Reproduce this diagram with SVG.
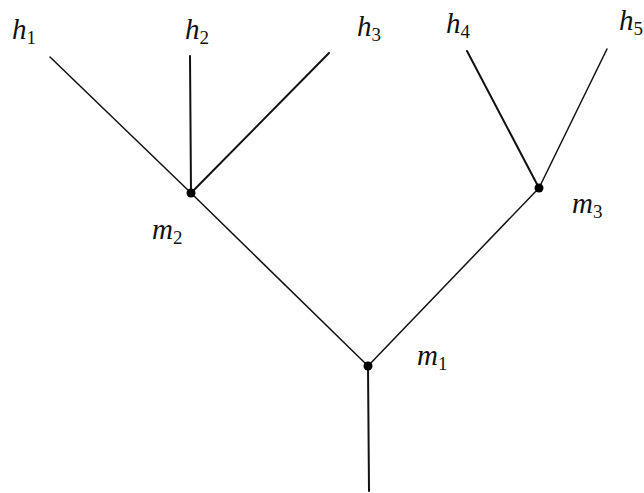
<svg xmlns="http://www.w3.org/2000/svg" width="644" height="493" viewBox="0 0 644 493">
<style>
.e{stroke:#111;stroke-width:1.5;fill:none;stroke-linecap:round}
.t{stroke-width:2}
.n{fill:#000}
.l{font-family:"Liberation Serif","Times New Roman",serif;font-style:italic;font-size:29px;fill:#111}
.s{font-style:normal;font-size:19px}
</style>
<rect width="644" height="493" fill="#fff"/>
<g id="edges">
<line class="e" x1="50" y1="57" x2="191" y2="193"/>
<line class="e t" x1="190" y1="56" x2="191" y2="193"/>
<line class="e t" x1="329" y1="53" x2="191" y2="193"/>
<line class="e t" x1="467" y1="51" x2="539" y2="188"/>
<line class="e" x1="607" y1="49" x2="539" y2="188"/>
<line class="e" x1="191" y1="193" x2="368" y2="366"/>
<line class="e" x1="539" y1="188" x2="368" y2="366"/>
<line class="e t" x1="368" y1="366" x2="369" y2="491"/>
</g>
<g id="h1"><text class="l" x="12" y="39">h<tspan class="s" dy="5">1</tspan></text></g>
<g id="h2"><text class="l" x="185" y="39">h<tspan class="s" dy="5">2</tspan></text></g>
<g id="h3"><text class="l" x="357" y="36">h<tspan class="s" dy="5">3</tspan></text></g>
<g id="h4"><text class="l" x="446" y="33">h<tspan class="s" dy="5">4</tspan></text></g>
<g id="h5"><text class="l" x="619" y="30">h<tspan class="s" dy="5">5</tspan></text></g>
<g id="m2"><circle class="n" cx="191" cy="193" r="4.5"/><text class="l" x="152" y="239">m<tspan class="s" dy="5">2</tspan></text></g>
<g id="m3"><circle class="n" cx="539" cy="188" r="4.5"/><text class="l" x="572" y="213">m<tspan class="s" dy="5">3</tspan></text></g>
<g id="m1"><circle class="n" cx="368" cy="366" r="4.5"/><text class="l" x="417" y="365">m<tspan class="s" dy="5">1</tspan></text></g>
</svg>
